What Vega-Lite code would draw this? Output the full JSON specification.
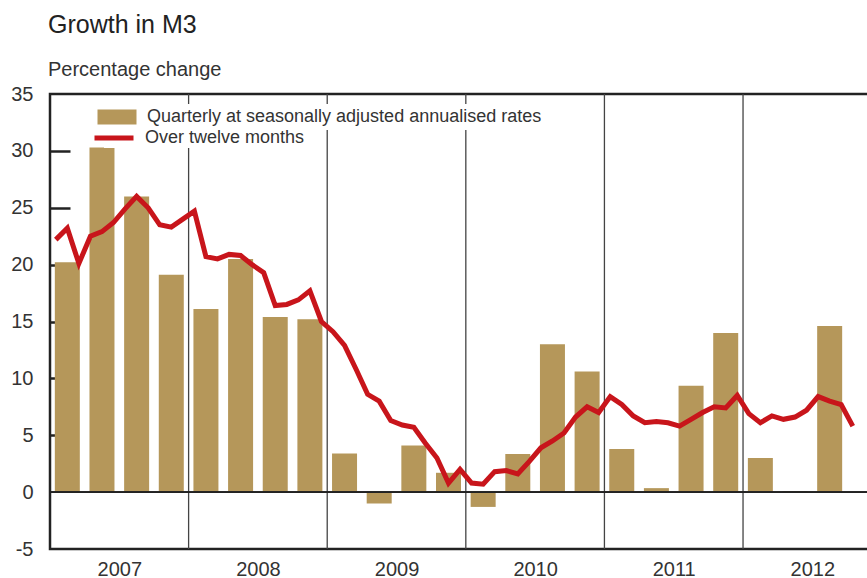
{
  "$schema": "https://vega.github.io/schema/vega-lite/v6.json",
  "width": 820,
  "height": 455,
  "autosize": {"type": "none"},
  "padding": {"left": 50, "top": 94, "right": 0, "bottom": 29},
  "background": "white",
  "title": {
    "text": "Growth in M3",
    "subtitle": "Percentage change",
    "anchor": "start",
    "frame": "group",
    "font": "Liberation Sans",
    "subtitleFont": "Liberation Sans",
    "fontSize": 25,
    "subtitleFontSize": 20,
    "fontWeight": "normal",
    "color": "#222222",
    "subtitleColor": "#333333",
    "dx": -2,
    "offset": 4,
    "subtitlePadding": 22
  },
  "config": {
    "font": "Liberation Sans",
    "view": {"stroke": "#222222", "strokeWidth": 2.5},
    "axis": {"labelFont": "Liberation Sans", "labelColor": "#333333", "labelFontSize": 20},
    "axisX": {
      "title": null, "ticks": false, "grid": false, "domain": false, "labelPadding": 10
    },
    "axisY": {
      "title": null, "ticks": false, "domain": false, "labelPadding": 17,
      "grid": true, "gridColor": "#222222", "gridWidth": 2.5, "gridDash": [20, 3000]
    },
    "legend": {"labelFont": "Liberation Sans", "labelColor": "#333333", "labelFontSize": 18}
  },
  "datasets": {
    "quarterly": [
      {"t": 2007.125, "v": 20.2, "s": "Quarterly at seasonally adjusted annualised rates"},
      {"t": 2007.375, "v": 30.3, "s": "Quarterly at seasonally adjusted annualised rates"},
      {"t": 2007.625, "v": 26.0, "s": "Quarterly at seasonally adjusted annualised rates"},
      {"t": 2007.875, "v": 19.1, "s": "Quarterly at seasonally adjusted annualised rates"},
      {"t": 2008.125, "v": 16.1, "s": "Quarterly at seasonally adjusted annualised rates"},
      {"t": 2008.375, "v": 20.5, "s": "Quarterly at seasonally adjusted annualised rates"},
      {"t": 2008.625, "v": 15.4, "s": "Quarterly at seasonally adjusted annualised rates"},
      {"t": 2008.875, "v": 15.2, "s": "Quarterly at seasonally adjusted annualised rates"},
      {"t": 2009.125, "v": 3.4, "s": "Quarterly at seasonally adjusted annualised rates"},
      {"t": 2009.375, "v": -1.0, "s": "Quarterly at seasonally adjusted annualised rates"},
      {"t": 2009.625, "v": 4.1, "s": "Quarterly at seasonally adjusted annualised rates"},
      {"t": 2009.875, "v": 1.7, "s": "Quarterly at seasonally adjusted annualised rates"},
      {"t": 2010.125, "v": -1.3, "s": "Quarterly at seasonally adjusted annualised rates"},
      {"t": 2010.375, "v": 3.35, "s": "Quarterly at seasonally adjusted annualised rates"},
      {"t": 2010.625, "v": 13.0, "s": "Quarterly at seasonally adjusted annualised rates"},
      {"t": 2010.875, "v": 10.6, "s": "Quarterly at seasonally adjusted annualised rates"},
      {"t": 2011.125, "v": 3.8, "s": "Quarterly at seasonally adjusted annualised rates"},
      {"t": 2011.375, "v": 0.35, "s": "Quarterly at seasonally adjusted annualised rates"},
      {"t": 2011.625, "v": 9.35, "s": "Quarterly at seasonally adjusted annualised rates"},
      {"t": 2011.875, "v": 14.0, "s": "Quarterly at seasonally adjusted annualised rates"},
      {"t": 2012.125, "v": 3.0, "s": "Quarterly at seasonally adjusted annualised rates"},
      {"t": 2012.375, "v": 0.1, "s": "Quarterly at seasonally adjusted annualised rates"},
      {"t": 2012.625, "v": 14.6, "s": "Quarterly at seasonally adjusted annualised rates"}
    ],
    "monthly": [
      {"t": 2007.0417, "v": 22.2, "s": "Over twelve months"},
      {"t": 2007.125, "v": 23.2, "s": "Over twelve months"},
      {"t": 2007.2083, "v": 20.1, "s": "Over twelve months"},
      {"t": 2007.2917, "v": 22.5, "s": "Over twelve months"},
      {"t": 2007.375, "v": 22.9, "s": "Over twelve months"},
      {"t": 2007.4583, "v": 23.7, "s": "Over twelve months"},
      {"t": 2007.5417, "v": 24.9, "s": "Over twelve months"},
      {"t": 2007.625, "v": 26.0, "s": "Over twelve months"},
      {"t": 2007.7083, "v": 25.0, "s": "Over twelve months"},
      {"t": 2007.7917, "v": 23.5, "s": "Over twelve months"},
      {"t": 2007.875, "v": 23.3, "s": "Over twelve months"},
      {"t": 2007.9583, "v": 24.0, "s": "Over twelve months"},
      {"t": 2008.0417, "v": 24.7, "s": "Over twelve months"},
      {"t": 2008.125, "v": 20.7, "s": "Over twelve months"},
      {"t": 2008.2083, "v": 20.5, "s": "Over twelve months"},
      {"t": 2008.2917, "v": 20.9, "s": "Over twelve months"},
      {"t": 2008.375, "v": 20.8, "s": "Over twelve months"},
      {"t": 2008.4583, "v": 20.0, "s": "Over twelve months"},
      {"t": 2008.5417, "v": 19.3, "s": "Over twelve months"},
      {"t": 2008.625, "v": 16.4, "s": "Over twelve months"},
      {"t": 2008.7083, "v": 16.5, "s": "Over twelve months"},
      {"t": 2008.7917, "v": 16.9, "s": "Over twelve months"},
      {"t": 2008.875, "v": 17.7, "s": "Over twelve months"},
      {"t": 2008.9583, "v": 15.0, "s": "Over twelve months"},
      {"t": 2009.0417, "v": 14.1, "s": "Over twelve months"},
      {"t": 2009.125, "v": 12.9, "s": "Over twelve months"},
      {"t": 2009.2083, "v": 10.8, "s": "Over twelve months"},
      {"t": 2009.2917, "v": 8.6, "s": "Over twelve months"},
      {"t": 2009.375, "v": 8.0, "s": "Over twelve months"},
      {"t": 2009.4583, "v": 6.3, "s": "Over twelve months"},
      {"t": 2009.5417, "v": 5.9, "s": "Over twelve months"},
      {"t": 2009.625, "v": 5.7, "s": "Over twelve months"},
      {"t": 2009.7083, "v": 4.3, "s": "Over twelve months"},
      {"t": 2009.7917, "v": 3.0, "s": "Over twelve months"},
      {"t": 2009.875, "v": 0.8, "s": "Over twelve months"},
      {"t": 2009.9583, "v": 2.0, "s": "Over twelve months"},
      {"t": 2010.0417, "v": 0.8, "s": "Over twelve months"},
      {"t": 2010.125, "v": 0.7, "s": "Over twelve months"},
      {"t": 2010.2083, "v": 1.8, "s": "Over twelve months"},
      {"t": 2010.2917, "v": 1.9, "s": "Over twelve months"},
      {"t": 2010.375, "v": 1.6, "s": "Over twelve months"},
      {"t": 2010.4583, "v": 2.7, "s": "Over twelve months"},
      {"t": 2010.5417, "v": 3.9, "s": "Over twelve months"},
      {"t": 2010.625, "v": 4.5, "s": "Over twelve months"},
      {"t": 2010.7083, "v": 5.2, "s": "Over twelve months"},
      {"t": 2010.7917, "v": 6.6, "s": "Over twelve months"},
      {"t": 2010.875, "v": 7.5, "s": "Over twelve months"},
      {"t": 2010.9583, "v": 7.0, "s": "Over twelve months"},
      {"t": 2011.0417, "v": 8.4, "s": "Over twelve months"},
      {"t": 2011.125, "v": 7.7, "s": "Over twelve months"},
      {"t": 2011.2083, "v": 6.7, "s": "Over twelve months"},
      {"t": 2011.2917, "v": 6.1, "s": "Over twelve months"},
      {"t": 2011.375, "v": 6.2, "s": "Over twelve months"},
      {"t": 2011.4583, "v": 6.1, "s": "Over twelve months"},
      {"t": 2011.5417, "v": 5.8, "s": "Over twelve months"},
      {"t": 2011.625, "v": 6.4, "s": "Over twelve months"},
      {"t": 2011.7083, "v": 7.0, "s": "Over twelve months"},
      {"t": 2011.7917, "v": 7.5, "s": "Over twelve months"},
      {"t": 2011.875, "v": 7.4, "s": "Over twelve months"},
      {"t": 2011.9583, "v": 8.5, "s": "Over twelve months"},
      {"t": 2012.0417, "v": 6.9, "s": "Over twelve months"},
      {"t": 2012.125, "v": 6.1, "s": "Over twelve months"},
      {"t": 2012.2083, "v": 6.7, "s": "Over twelve months"},
      {"t": 2012.2917, "v": 6.4, "s": "Over twelve months"},
      {"t": 2012.375, "v": 6.6, "s": "Over twelve months"},
      {"t": 2012.4583, "v": 7.2, "s": "Over twelve months"},
      {"t": 2012.5417, "v": 8.4, "s": "Over twelve months"},
      {"t": 2012.625, "v": 8.0, "s": "Over twelve months"},
      {"t": 2012.7083, "v": 7.7, "s": "Over twelve months"},
      {"t": 2012.7917, "v": 5.8, "s": "Over twelve months"}
    ],
    "years": [{"t": 2008}, {"t": 2009}, {"t": 2010}, {"t": 2011}, {"t": 2012}]
  },
  "layer": [
    {
      "data": {"name": "quarterly"},
      "mark": {"type": "bar", "width": 25},
      "encoding": {
        "x": {
          "field": "t", "type": "quantitative",
          "scale": {"domain": [2007, 2012.916], "nice": false, "zero": false, "padding": 0},
          "axis": {"values": [2007.5, 2008.5, 2009.5, 2010.5, 2011.5, 2012.5], "labelExpr": "floor(datum.value)"}
        },
        "y": {
          "field": "v", "type": "quantitative",
          "scale": {"domain": [-5, 35], "nice": false, "padding": 0},
          "axis": {
            "values": [-5, 0, 5, 10, 15, 20, 25, 30, 35],
            "labelExpr": "datum.value < 0 ? '-' + abs(datum.value) : '' + datum.value",
            "gridOpacity": {"condition": {"test": "datum.value >= 35 || datum.value <= 0", "value": 0}, "value": 1}
          }
        },
        "fill": {
          "field": "s", "type": "nominal",
          "scale": {"range": ["#B5975A"]},
          "legend": {
            "title": null, "orient": "none", "legendX": 54, "legendY": 10,
            "symbolType": "M-2.6,-1H2.6V1H-2.6Z", "symbolSize": 225, "symbolStrokeWidth": 0,
            "labelOffset": 21, "padding": 4, "fillColor": "white", "labelLimit": 600
          }
        }
      }
    },
    {
      "data": {"name": "years"},
      "mark": {"type": "rule", "color": "#444444", "strokeWidth": 1.3},
      "encoding": {
        "x": {"field": "t", "type": "quantitative",
          "axis": {"values": [2007.5, 2008.5, 2009.5, 2010.5, 2011.5, 2012.5], "labelExpr": "floor(datum.value)"}}
      }
    },
    {
      "data": {"name": "years"},
      "mark": {"type": "rule", "color": "#222222", "strokeWidth": 1.5},
      "encoding": {
        "y": {"datum": 0, "type": "quantitative",
          "axis": {
            "values": [-5, 0, 5, 10, 15, 20, 25, 30, 35],
            "labelExpr": "datum.value < 0 ? '-' + abs(datum.value) : '' + datum.value",
            "gridOpacity": {"condition": {"test": "datum.value >= 35 || datum.value <= 0", "value": 0}, "value": 1}
          }}
      }
    },
    {
      "data": {"name": "monthly"},
      "mark": {"type": "line", "strokeWidth": 5},
      "encoding": {
        "x": {"field": "t", "type": "quantitative",
          "axis": {"values": [2007.5, 2008.5, 2009.5, 2010.5, 2011.5, 2012.5], "labelExpr": "floor(datum.value)"}},
        "y": {"field": "v", "type": "quantitative",
          "axis": {
            "values": [-5, 0, 5, 10, 15, 20, 25, 30, 35],
            "labelExpr": "datum.value < 0 ? '-' + abs(datum.value) : '' + datum.value",
            "gridOpacity": {"condition": {"test": "datum.value >= 35 || datum.value <= 0", "value": 0}, "value": 1}
          }},
        "stroke": {
          "field": "s", "type": "nominal",
          "scale": {"range": ["#C8151B"]},
          "legend": {
            "title": null, "orient": "none", "legendX": 54, "legendY": 34,
            "symbolType": "M-2.6,0H2.6", "symbolSize": 225, "symbolStrokeWidth": 5,
            "labelOffset": 21, "padding": 0, "fillColor": "white", "labelLimit": 600
          }
        }
      }
    }
  ]
}
